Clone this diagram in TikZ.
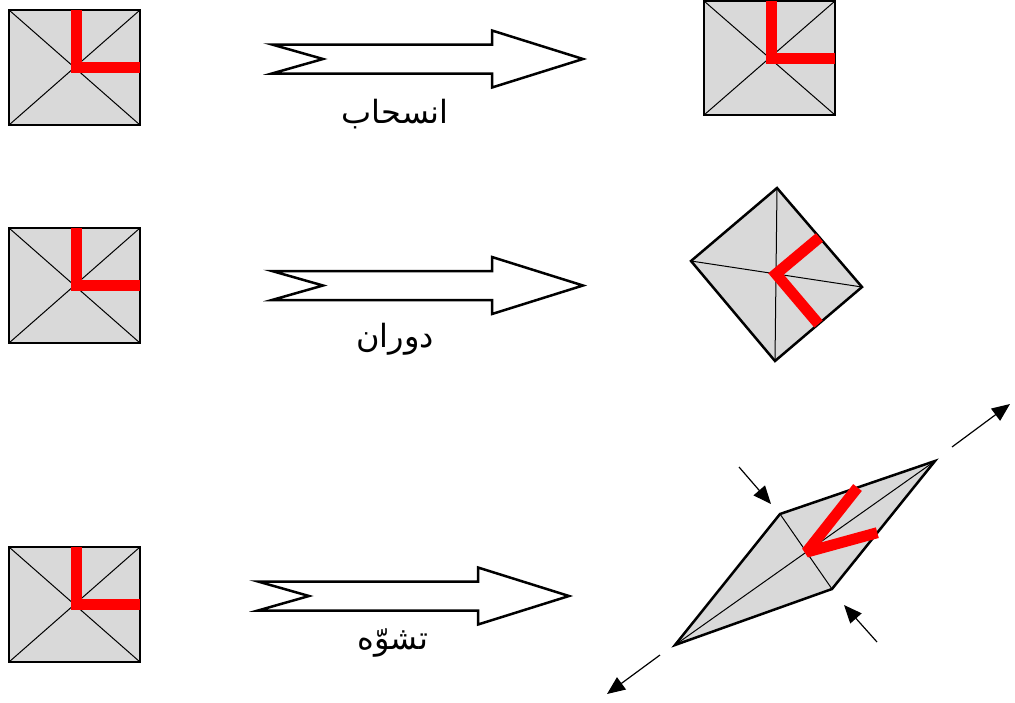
\documentclass[tikz,border=0pt]{standalone}
\usepackage{fontspec}
\newfontfamily\arabicfont[Script=Arabic]{DejaVu Sans}
\TeXXeTstate=1
\usetikzlibrary{arrows.meta,calc}
\definecolor{shade}{HTML}{D9D9D9}
\tikzset{
  sq/.style={draw=black, line width=2.5pt, fill=shade, minimum width=131pt, minimum height=115pt, inner sep=0pt, outer sep=0pt},
  diag/.style={line width=1pt},
  redL/.style={draw=red, line width=11pt, line cap=butt, line join=miter},
  outline/.style={draw=black, line width=2.5pt, fill=shade, line join=miter},
  bigarrow/.style={draw=black, line width=2.5pt, fill=white, line join=miter},
  lbl/.style={font=\arabicfont\fontsize{32}{36}\selectfont, inner sep=0pt},
  dir/.style={line width=1.2pt, -{Triangle[length=18pt,width=15pt]}},
  hollowarrow/.pic={\draw[bigarrow] (0,-14.5) -- (51,0) -- (0,14.5) -- (220,14.5) -- (220,28.5) -- (311,0) -- (220,-28.5) -- (220,-14.5) -- cycle;}
}
\begin{document}
\begin{tikzpicture}[x=1pt,y=-1pt]
\useasboundingbox (0,0) rectangle (1015,702);
% left squares
\foreach \n/\yy in {sa/67.5, sb/285.5, sc/604.5} {
  \node[sq] (\n) at (74.5,\yy) {};
  \draw[diag] (\n.north west) -- (\n.south east) (\n.north east) -- (\n.south west);
  \draw[redL] ([xshift=1.5pt]\n.north) |- (\n.east);
}
% translated square
\node[sq, minimum height=114pt] (ta) at (769.5,58) {};
\draw[diag] (ta.north west) -- (ta.south east) (ta.north east) -- (ta.south west);
\draw[redL] ([xshift=1.5pt]ta.north) |- (ta.east);
% rotated square
\coordinate (rt) at (777,188);
\coordinate (rl) at (691,261);
\coordinate (rr) at (862,287);
\coordinate (rb) at (775,361);
\draw[outline] (rt) -- (rr) -- (rb) -- (rl) -- cycle;
\draw[diag] (rt) -- (rb) (rl) -- (rr);
\coordinate (rc) at (intersection of rt--rb and rl--rr);
\draw[redL] ($(rt)!0.5!(rr)$) -- (rc) -- ($(rr)!0.5!(rb)$);
% distorted shape
\coordinate (dA) at (675,645);
\coordinate (dB) at (780,514);
\coordinate (dC) at (935,461);
\coordinate (dD) at (832,589);
\draw[outline] (dA) -- (dB) -- (dC) -- (dD) -- cycle;
\draw[diag] (dA) -- (dC) (dB) -- (dD);
\coordinate (dc) at (intersection of dA--dC and dB--dD);
\draw[redL, line join=bevel] ($(dB)!0.5!(dC)$) -- (dc) -- ($(dC)!0.56!(dD)$);
% direction arrows
\coordinate (p1s) at (952,447); \coordinate (p1e) at (1010,404);
\coordinate (p2s) at (660,655); \coordinate (p2e) at (607,694);
\coordinate (p3s) at (739,467); \coordinate (p3e) at (771,504);
\coordinate (p4s) at (877,642); \coordinate (p4e) at (844,605);
\draw[dir] (p1s) -- (p1e);
\draw[dir] (p2s) -- (p2e);
\draw[dir] (p3s) -- (p3e);
\draw[dir] (p4s) -- (p4e);
% hollow arrows
\pic at (272,59) {hollowarrow};
\pic at (272,285.5) {hollowarrow};
\pic at (258,596) {hollowarrow};
% labels
\node[lbl] (t1) at (395,114) {\beginR انسحاب\endR};
\node[lbl] (t2) at (395,339) {\beginR دوران\endR};
\node[lbl] (t3) at (393,643) {\beginR تشوّه\endR};
\end{tikzpicture}
\end{document}
